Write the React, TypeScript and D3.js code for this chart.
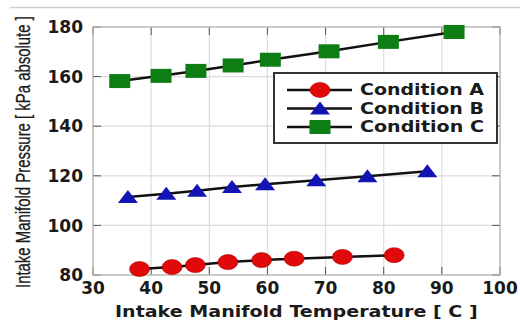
import React, { useEffect, useRef } from 'react';
import * as d3 from 'd3';

const xTicks = [30, 40, 50, 60, 70, 80, 90, 100];
const yTicks = [80, 100, 120, 140, 160, 180];

const tempA = [38, 43.6, 47.6, 53.2, 59, 64.6, 72.9, 81.8];
const presA = [82.4, 83.2, 84, 85.2, 86, 86.6, 87.3, 88];
const tempB = [36, 42.6, 47.9, 53.9, 59.6, 68.4, 77.2, 87.5];
const presB = [111.5, 112.8, 114, 115.5, 116.6, 118.2, 119.8, 121.8];
const tempC = [34.6, 41.7, 47.7, 54.1, 60.5, 70.6, 80.8, 92.1];
const presC = [158.2, 160.3, 162.3, 164.5, 166.8, 170.2, 174, 178];

const seriesNames = ['Condition A', 'Condition B', 'Condition C'];
const seriesColors = ['#e00a0a', '#1414b4', '#0e7d14'];
const seriesShapes = ['circle', 'triangle', 'square'];

// squeeze a text node horizontally so it spans the given length
const fitText = (sel, base, len) => {
  const natural = sel.node().getComputedTextLength() || len;
  sel.attr('transform', `${base} scale(${len / natural},1)`);
};

const App = () => {
  const svgRef = useRef(null);

  useEffect(() => {
    const width = 520;
    const height = 321;
    const margin = { top: 27, right: 20, bottom: 46, left: 93 };
    const w = width - margin.left - margin.right;
    const h = height - margin.top - margin.bottom;

    svgRef.current.innerHTML = '';
    const root = d3.select(svgRef.current)
      .attr('width', width)
      .attr('height', height);

    root.append('rect').attr('width', width).attr('height', height).attr('fill', '#fff');
    // faint rule above the figure
    root.append('line')
      .attr('x1', 10).attr('x2', width).attr('y1', 7.5).attr('y2', 7.5)
      .attr('stroke', '#d0d0d0').attr('stroke-width', 1.5);

    const svg = root.append('g').attr('transform', `translate(${margin.left},${margin.top})`);

    const x = d3.scaleLinear().domain([30, 100]).range([0, w]);
    const y = d3.scaleLinear().domain([80, 180]).range([h, 0]);

    // grid
    svg.append('g').selectAll('line').data(xTicks).enter().append('line')
      .attr('x1', d => x(d)).attr('x2', d => x(d)).attr('y1', 0).attr('y2', h)
      .attr('stroke', '#dcdcdc').attr('stroke-width', 1.2);
    svg.append('g').selectAll('line').data(yTicks).enter().append('line')
      .attr('y1', d => y(d)).attr('y2', d => y(d)).attr('x1', 0).attr('x2', w)
      .attr('stroke', '#dcdcdc').attr('stroke-width', 1.2);

    // inward ticks
    const tk = 8;
    const tickG = svg.append('g').attr('stroke', '#555').attr('stroke-width', 1);
    yTicks.forEach(t => {
      tickG.append('line').attr('x1', 0).attr('x2', tk).attr('y1', y(t)).attr('y2', y(t));
      tickG.append('line').attr('x1', w).attr('x2', w - tk).attr('y1', y(t)).attr('y2', y(t));
    });
    xTicks.forEach(t => {
      tickG.append('line').attr('y1', h).attr('y2', h - tk).attr('x1', x(t)).attr('x2', x(t));
      tickG.append('line').attr('y1', 0).attr('y2', tk).attr('x1', x(t)).attr('x2', x(t));
    });

    svg.append('rect')
      .attr('width', w).attr('height', h)
      .attr('fill', 'none').attr('stroke', '#b4b4b4').attr('stroke-width', 1.2);

    // tick labels
    svg.append('g').selectAll('text').data(yTicks).enter().append('text')
      .attr('x', -10).attr('y', d => y(d)).attr('dy', '0.36em')
      .attr('text-anchor', 'end')
      .attr('font-family', 'DejaVu Sans').attr('font-weight', 'bold').attr('font-size', 17)
      .attr('fill', '#1a1a1a')
      .text(d => d);
    svg.append('g').selectAll('text').data(xTicks).enter().append('text')
      .attr('x', d => x(d)).attr('y', h + 19)
      .attr('text-anchor', 'middle')
      .attr('font-family', 'DejaVu Sans').attr('font-weight', 'bold').attr('font-size', 17)
      .attr('fill', '#1a1a1a')
      .text(d => d);

    // axis titles
    const xTitle = root.append('text')
      .attr('font-family', 'DejaVu Sans').attr('font-weight', 'bold').attr('font-size', 15.5)
      .attr('fill', '#1a1a1a')
      .text('Intake Manifold Temperature [ C ]');
    fitText(xTitle, 'translate(115,317)', 363);
    const yTitle = root.append('text')
      .attr('font-family', 'Liberation Sans').attr('font-size', 21)
      .attr('fill', '#1a1a1a')
      .attr('stroke', '#1a1a1a').attr('stroke-width', 0.3)
      .text('Intake Manifold Pressure [ kPa absolute ]');
    fitText(yTitle, 'translate(30,288) rotate(-90)', 272);

    const drawMarker = (g, shape, color, cx, cy) => {
      if (shape === 'circle') {
        g.append('ellipse').attr('cx', cx).attr('cy', cy).attr('rx', 10).attr('ry', 7.5)
          .attr('fill', color).attr('stroke', '#b00000').attr('stroke-width', 0.6);
      } else if (shape === 'triangle') {
        g.append('path')
          .attr('d', `M${cx - 10},${cy + 6} L${cx + 10},${cy + 6} L${cx},${cy - 7} Z`)
          .attr('fill', color);
      } else {
        g.append('rect').attr('x', cx - 10.5).attr('y', cy - 7).attr('width', 21).attr('height', 14)
          .attr('fill', color);
      }
    };

    const series = [
      { xs: tempA, ys: presA },
      { xs: tempB, ys: presB },
      { xs: tempC, ys: presC },
    ];

    const line = d3.line().x(d => x(d[0])).y(d => y(d[1]));

    series.forEach((s, i) => {
      const pts = s.xs.map((v, j) => [v, s.ys[j]]);
      svg.append('path').datum(pts)
        .attr('d', line)
        .attr('fill', 'none').attr('stroke', '#111').attr('stroke-width', 2.5);
      const mg = svg.append('g');
      pts.forEach(p => drawMarker(mg, seriesShapes[i], seriesColors[i], x(p[0]), y(p[1])));
    });

    // legend
    const lg = root.append('g');
    lg.append('rect')
      .attr('x', 274).attr('y', 73).attr('width', 223).attr('height', 70)
      .attr('fill', '#fff').attr('stroke', '#333').attr('stroke-width', 2);
    seriesNames.forEach((name, i) => {
      const ly = 90 + i * 18.5;
      lg.append('line').attr('x1', 287).attr('x2', 352).attr('y1', ly).attr('y2', ly)
        .attr('stroke', '#111').attr('stroke-width', 2.5);
      drawMarker(lg, seriesShapes[i], seriesColors[i], 320, ly);
      const t = lg.append('text').attr('dy', '0.36em')
        .attr('font-family', 'DejaVu Sans').attr('font-weight', 'bold').attr('font-size', 15)
        .attr('fill', '#1a1a1a')
        .text(name);
      fitText(t, `translate(360,${ly})`, 124);
    });
  }, []);

  return (
    <svg ref={svgRef} style={{ position: 'absolute', left: 0, top: 0 }}></svg>
  );
};

export default App;
